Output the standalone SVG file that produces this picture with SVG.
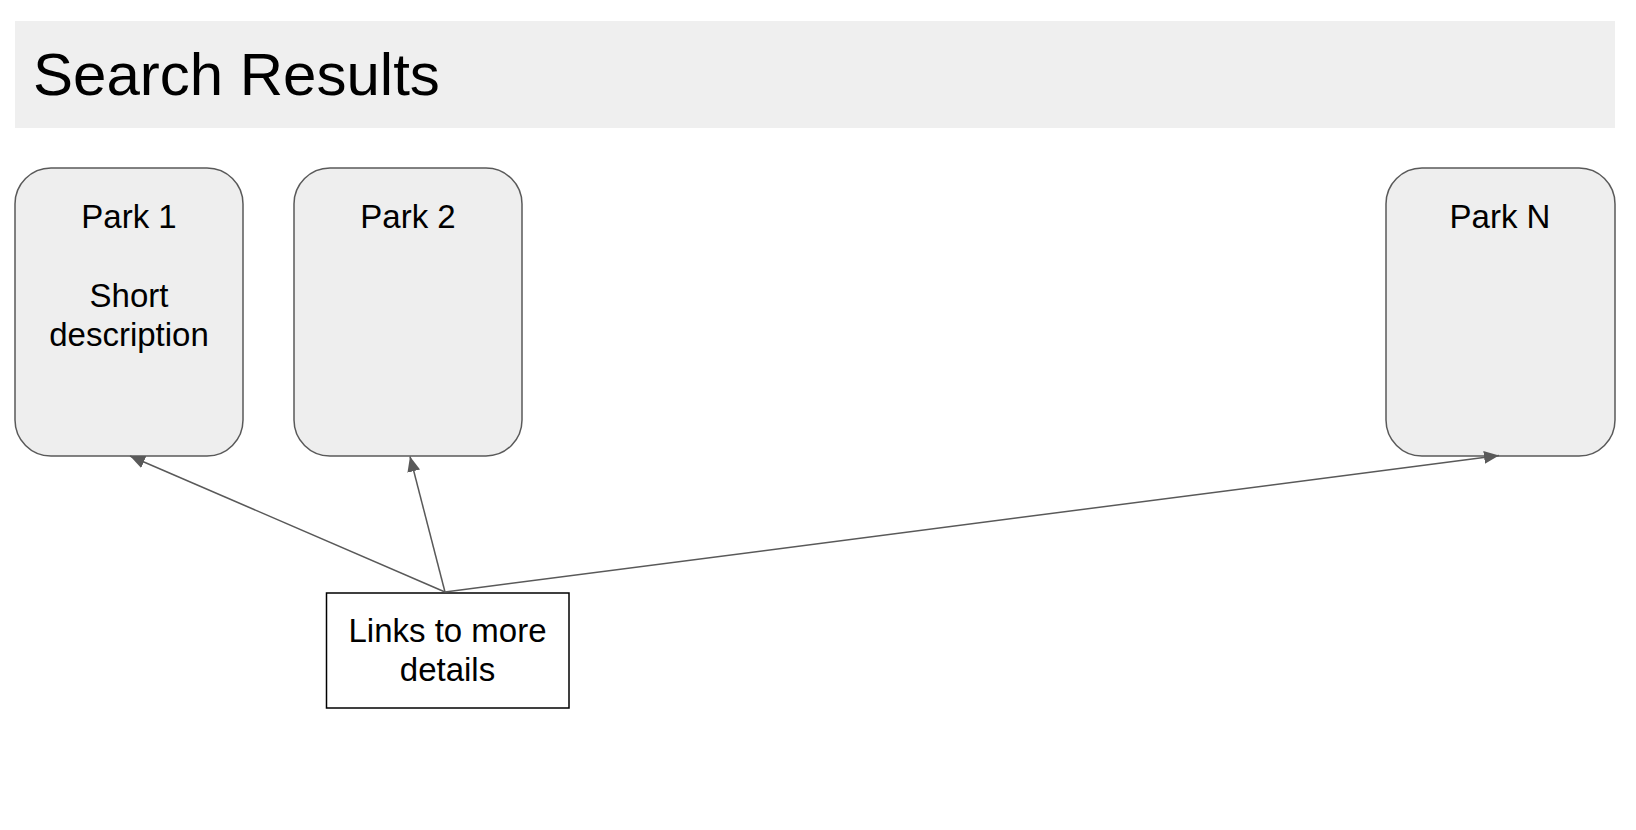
<svg xmlns="http://www.w3.org/2000/svg" width="1636" height="830" viewBox="0 0 1636 830">
  <style>
    .park { fill: #eeeeee; stroke: #595959; stroke-width: 1.5; }
    .lbl { font-family: "Liberation Sans", Arial, sans-serif; font-size: 33px; fill: #000000; text-anchor: middle; }
    .conn { stroke: #595959; stroke-width: 1.5; fill: none; marker-end: url(#arrow); }
  </style>
  <defs>
    <marker id="arrow" markerUnits="userSpaceOnUse" markerWidth="16" markerHeight="14" refX="15" refY="6.5" orient="auto">
      <path d="M0,0 L15,6.5 L0,13 Z" fill="#595959"/>
    </marker>
  </defs>
  <rect width="1636" height="830" fill="#ffffff"/>
  <g id="header">
    <rect x="15" y="21" width="1600" height="107" fill="#efefef"/>
    <text x="33" y="95" font-family="Liberation Sans, Arial, sans-serif" font-size="60" fill="#000000">Search Results</text>
  </g>
  <g id="park1">
    <rect class="park" x="15" y="168" width="228" height="288" rx="36" ry="36"/>
    <text class="lbl" x="129" y="228">Park 1</text>
    <text class="lbl" x="129" y="307">Short</text>
    <text class="lbl" x="129" y="346">description</text>
  </g>
  <g id="park2">
    <rect class="park" x="294" y="168" width="228" height="288" rx="36" ry="36"/>
    <text class="lbl" x="408" y="228">Park 2</text>
  </g>
  <g id="parkN">
    <rect class="park" x="1386" y="168" width="229" height="288" rx="36" ry="36"/>
    <text class="lbl" x="1500" y="228">Park N</text>
  </g>
  <g id="links">
    <rect x="326.5" y="593" width="242.5" height="115" fill="#ffffff" stroke="#000000" stroke-width="1.5"/>
    <text class="lbl" x="447.5" y="642">Links to more</text>
    <text class="lbl" x="447.5" y="681">details</text>
  </g>
  <g id="connectors">
    <line class="conn" x1="445" y1="592" x2="130" y2="456"/>
    <line class="conn" x1="445" y1="592" x2="410" y2="456.5"/>
    <line class="conn" x1="445" y1="592" x2="1499" y2="455.5"/>
  </g>
</svg>
